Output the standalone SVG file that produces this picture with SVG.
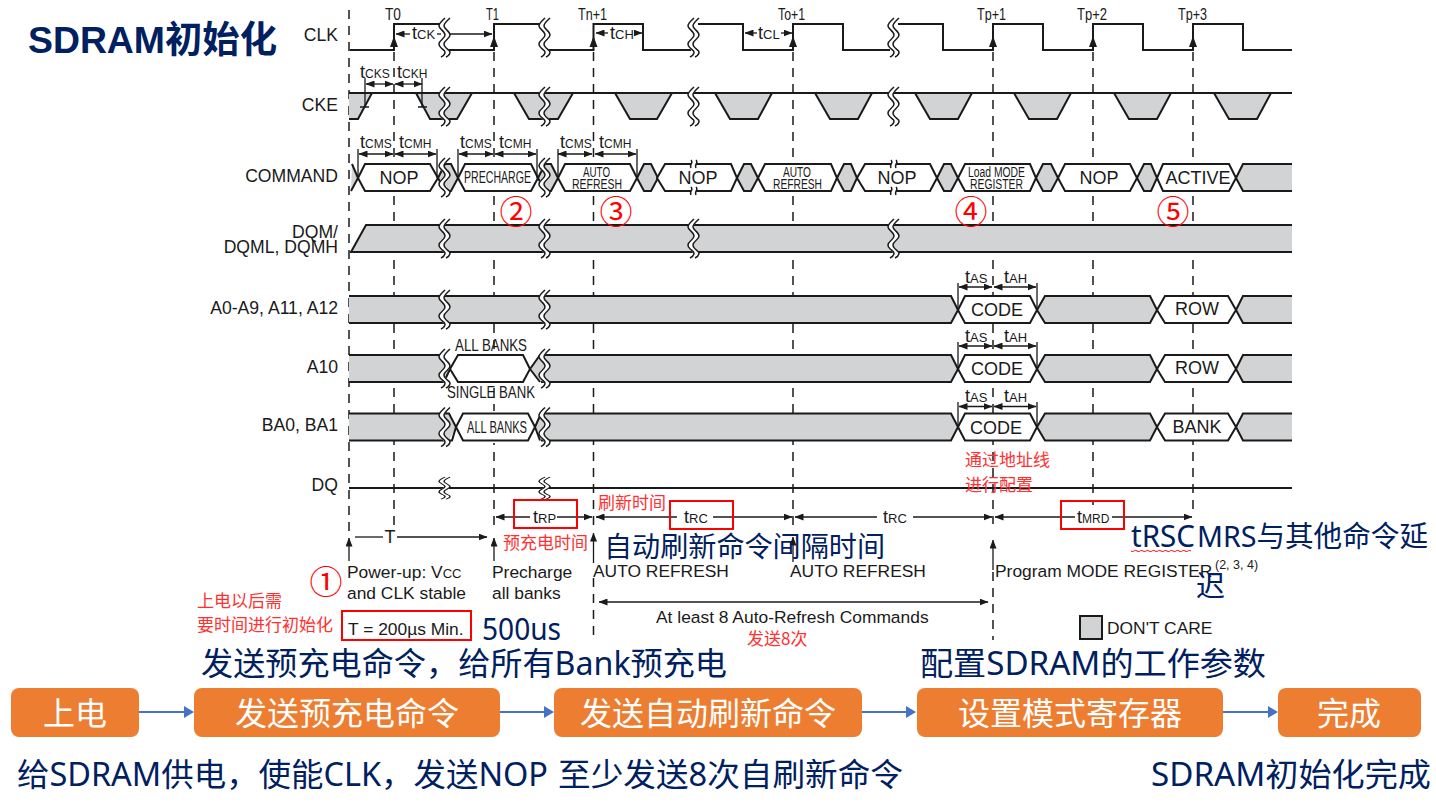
<svg xmlns="http://www.w3.org/2000/svg" width="1436" height="811" viewBox="0 0 1436 811">
<style>
text{font-family:"Liberation Sans","Noto Sans CJK SC",sans-serif}
.w{fill:#fff;stroke:none}
.g{fill:#d1d3d4;stroke:#1a1a1a;stroke-width:2}
.h{fill:#fff;stroke:#1a1a1a;stroke-width:2}
.l{fill:none;stroke:#1a1a1a;stroke-width:2}
.t{fill:none;stroke:#1a1a1a;stroke-width:1.3}
.aa{fill:none;stroke:#1a1a1a;stroke-width:1.3;marker-start:url(#a);marker-end:url(#a)}
.as{fill:none;stroke:#1a1a1a;stroke-width:1.3;marker-start:url(#a)}
.ae{fill:none;stroke:#1a1a1a;stroke-width:1.3;marker-end:url(#a)}
.d{fill:none;stroke:#1a1a1a;stroke-width:1.5;stroke-dasharray:9 7}
.lab{font-size:17.6px;fill:#1a1a1a;text-anchor:end}
.s{font-size:18px;fill:#1a1a1a}
.s tspan{font-size:13px}
.sm tspan{font-size:12px}
.tk{font-size:16px;fill:#1a1a1a}
.m{font-size:18px;fill:#1a1a1a;text-anchor:middle}
.p{font-size:17.4px;fill:#1a1a1a}
.x{fill:#1a1a1a}
.b{fill:#002060;font-family:"Noto Sans","Noto Sans CJK SC",sans-serif;font-size:32px}
.r{fill:#ff3030;font-family:"Noto Sans CJK SC",sans-serif;font-size:17px}
.c{fill:#f00;font-family:"Noto Sans CJK SC",sans-serif;font-size:33px;text-anchor:middle}
.box{fill:none;stroke:#f00;stroke-width:2}
.n{fill:#ed7d31}
.nt{fill:#fff;font-family:"Noto Sans CJK SC",sans-serif;font-size:32px;text-anchor:middle}
.bk{fill:none;stroke:#1a1a1a;stroke-width:1.5}
</style>
<defs>
<marker id="a" markerWidth="9" markerHeight="7" refX="8.5" refY="3.500" orient="auto-start-reverse" markerUnits="userSpaceOnUse"><path d="M0 0L9 3.500L0 7Z" fill="#1a1a1a"/></marker>
<path id="wv" d="M3 -6C0 -3 -3 -1 -3 2C-3 5 3 7 3 11C3 15 -3 16 -3 20C-3 24 3 26 3 28C3 30 1 32 -1 33"/>
<g id="brk"><use href="#wv" x="2.500" fill="none" stroke="#fff" stroke-width="5"/><use href="#wv" class="bk"/><use href="#wv" x="5" class="bk"/></g>
</defs>
<g id="dashes">
<path class="d" d="M349 10V532M394 52V532M494 52V532M593.500 52V532M793 52V526M993 52V524M1093 52V505M1193 52V516"/>
<path class="d" d="M593.500 578V640M993 572V640"/>
</g>
<g id="clock">
<path class="l" d="M350 50H394V24H441M449 50H494V24H541M548 50H593.500V24H643V50H691M698 24H743V50H793V24H843V50H890M898 24H943V50H993V24H1043V50H1093V24H1143V50H1193V24H1243V50H1292"/>
<use href="#brk" x="442" y="24"/><use href="#brk" x="542" y="24"/><use href="#brk" x="691" y="24"/><use href="#brk" x="891" y="24"/>
<path d="M394 36l-4 11h8zM494 36l-4 11h8zM593.500 36l-4 11h8zM793 36l-4 11h8zM993 36l-4 11h8zM1093 36l-4 11h8zM1193 36l-4 11h8z" fill="#1a1a1a"/>
</g>
<g id="cke">
<path class="g" d="M349 119H358L372 93H349M416 93L430 119H457L472 93M514 93L529 119H558L573 93M615 93L630 119H657L672 93M715 93L730 119H758L772 93M815 93L830 119H858L872 93M915 93L930 119H958L972 93M1014 93L1029 119H1057L1071 93M1114 93L1129 119H1157L1171 93M1214 93L1229 119H1257L1271 93"/>
<path class="l" d="M349 93H1292"/>
<use href="#brk" x="442" y="93"/><use href="#brk" x="542" y="93"/><use href="#brk" x="691" y="93"/><use href="#brk" x="891" y="93"/>
</g>
<g id="command">
<path class="g" d="M352 164L358 178L351 191M438 178L445 164H451L458 178L451 191H445ZM538 178L545 164H551L558 178L551 191H545ZM637 178L644 164H651L658 178L651 191H644ZM737 178L744 164H751L758 178L751 191H744ZM837 178L844 164H851L857 178L851 191H844ZM937 178L944 164H951L958 178L951 191H944ZM1036 178L1043 164H1051L1058 178L1051 191H1043ZM1137 178L1144 164H1151L1157 178L1151 191H1144ZM1292 164H1243L1236 178L1243 191H1292"/>
<path class="h" d="M358 178L365 164H430L438 178L430 191H365ZM458 178L465 164H531L538 178L531 191H465ZM558 178L565 164H630L637 178L630 191H565ZM657 178L665 164H731L737 178L731 191H665ZM758 178L765 164H831L837 178L831 191H765ZM857 178L865 164H930L937 178L930 191H865ZM958 178L965 164H1030L1036 178L1030 191H965ZM1058 178L1065 164H1130L1137 178L1130 191H1065ZM1157 178L1163 164H1229L1236 178L1229 191H1163Z"/>
<use href="#brk" x="442" y="164"/><use href="#brk" x="542" y="164"/>
<path class="w" d="M691 162h5v4h-5zM691 189h5v4h-5zM891 162h5v4h-5zM891 189h5v4h-5z"/>
<path class="bk" d="M691 160C694 163 689 164 691 168M696 160C699 163 694 164 696 168M691 187C694 190 689 191 691 195M696 187C699 190 694 191 696 195M891 160C894 163 889 164 891 168M896 160C899 163 894 164 896 168M891 187C894 190 889 191 891 195M896 187C899 190 894 191 896 195"/>
</g>
<g id="dqm">
<path class="g" d="M1292 225H366L351 252H1292"/>
<use href="#brk" x="442" y="225"/><use href="#brk" x="542" y="225"/><use href="#brk" x="691" y="225"/><use href="#brk" x="891" y="225"/>
</g>
<g id="addr">
<path class="g" d="M349 296H951L958 310L951 323H349M1037 310L1045 296H1150L1157 310L1150 323H1045ZM1292 296H1243L1236 310L1243 323H1292"/>
<path class="h" d="M958 310L965 296H1030L1037 310L1030 323H965ZM1157 310L1165 296H1228L1236 310L1228 323H1165Z"/>
<use href="#brk" x="442" y="296"/><use href="#brk" x="542" y="296"/>
</g>
<g id="a10">
<path class="g" d="M349 355H951L958 369L951 382H349M1037 369L1045 355H1150L1157 369L1150 382H1045ZM1292 355H1243L1236 369L1243 382H1292"/>
<path class="w" d="M445 353h96v31h-96z"/>
<path d="M444 358L450 369L444 380ZM530 369L541 355V382Z" fill="#d1d3d4"/>
<path class="h" d="M450 369L458 355H523L530 369L523 382H458Z"/>
<path class="l" d="M450 369L444 382M450 369L444 358M530 369L540 382M530 369L540 355"/>
<path class="h" d="M958 369L965 355H1030L1037 369L1030 382H965ZM1157 369L1165 355H1228L1236 369L1228 382H1165Z"/>
<use href="#brk" x="442" y="355"/><use href="#brk" x="542" y="355"/>
</g>
<g id="ba">
<path class="g" d="M349 413.500H951L958 427L951 440.500H349M1037 427L1045 413.500H1150L1157 427L1150 440.500H1045ZM1292 413.500H1243L1236 427L1243 440.500H1292"/>
<path class="w" d="M447 411h94v32h-94z"/>
<path d="M445 413.500H449L456 427L449 440.500H445ZM535 427L541 413.500V440.500Z" fill="#d1d3d4"/>
<path class="l" d="M445 413.500H449L456 427L452 440.500H445M535 427L541 413.500M535 427L540 440.500"/>
<path class="h" d="M456 427L463 413.500H528L535 427L528 440.500H463ZM958 427L965 413.500H1030L1037 427L1030 440.500H965ZM1157 427L1165 413.500H1228L1236 427L1228 440.500H1165Z"/>
<use href="#brk" x="442" y="413.500"/><use href="#brk" x="542" y="413.500"/>
</g>
<g id="dq">
<path class="l" d="M349 488H1292"/>
<use href="#brk" transform="translate(442 480.400) scale(1 .564)"/><use href="#brk" transform="translate(542 480.400) scale(1 .564)"/>
</g>
<g id="timing">
<path class="as" d="M396 34H410"/><path class="t" d="M437 34H441"/><path class="ae" d="M450 34H492"/>
<path class="as" d="M596 33H608"/><path class="ae" d="M636 33H642"/><path class="as" d="M745 33H757"/><path class="ae" d="M781 33H792"/>
<path class="aa" d="M366 84H393"/><path class="aa" d="M395 84H422"/>
<path class="t" d="M365 78V107M422 78V107M360 107H369M418 107H427"/>
<path class="aa" d="M359 154H393"/><path class="aa" d="M395 154H436"/><path class="aa" d="M459 154H493"/><path class="aa" d="M495 154H536"/><path class="aa" d="M558 154H592"/><path class="aa" d="M595 154H636"/>
<path class="t" d="M358 149V178M437 149V178M458 149V178M537 149V178M558 149V178M637 149V178"/>
<path class="aa" d="M959 287H992"/><path class="aa" d="M994 287H1036"/><path class="aa" d="M959 346H992"/><path class="aa" d="M994 346H1036"/><path class="aa" d="M959 406.500H992"/><path class="aa" d="M994 406.500H1036"/>
<path class="t" d="M958 283V310M1037 283V310M958 342V369M1037 342V369M958 402V427M1037 402V427"/>
<path class="as" d="M496 517H530"/><path class="ae" d="M557 517H592"/>
<path class="as" d="M596 517H677"/><path class="ae" d="M713 517H792"/>
<path class="as" d="M795 517H877"/><path class="ae" d="M913 517H992"/>
<path class="as" d="M995 517H1075"/><path class="ae" d="M1112 517H1192"/>
<path class="t" d="M355 537H383"/><path class="ae" d="M397 537H487"/>
<path class="ae" d="M349 561V538"/><path class="ae" d="M494 561V538"/><path class="ae" d="M593.500 563V533"/><path class="ae" d="M793 562V537"/><path class="ae" d="M993 570V540"/>
<path class="aa" d="M599 602H988"/>
</g>
<g id="labels">
<text class="lab" x="338" y="41">CLK</text><text class="lab" x="338" y="111">CKE</text><text class="lab" x="338" y="182">COMMAND</text>
<text class="lab" x="338" y="238">DQM/</text><text class="lab" x="338" y="253">DQML, DQMH</text>
<text class="lab" x="338" y="314">A0-A9, A11, A12</text><text class="lab" x="338" y="373">A10</text><text class="lab" x="338" y="431">BA0, BA1</text><text class="lab" x="338" y="491">DQ</text>
<text class="tk" x="385" y="20" textLength="16" lengthAdjust="spacingAndGlyphs">T0</text><text class="tk" x="486" y="20" textLength="13" lengthAdjust="spacingAndGlyphs">T1</text><text class="tk" x="578" y="20" textLength="29" lengthAdjust="spacingAndGlyphs">Tn+1</text><text class="tk" x="778" y="20" textLength="27" lengthAdjust="spacingAndGlyphs">To+1</text><text class="tk" x="977" y="20" textLength="29" lengthAdjust="spacingAndGlyphs">Tp+1</text><text class="tk" x="1077" y="20" textLength="30" lengthAdjust="spacingAndGlyphs">Tp+2</text><text class="tk" x="1178" y="20" textLength="29" lengthAdjust="spacingAndGlyphs">Tp+3</text>
<text class="s" x="412" y="39">t<tspan>CK</tspan></text>
<text class="s" x="610" y="39">t<tspan>CH</tspan></text>
<text class="s" x="758" y="39">t<tspan>CL</tspan></text>
<g class="sm"><text class="s" x="360" y="78">t<tspan>CKS</tspan></text><text class="s" x="397" y="78">t<tspan>CKH</tspan></text>
<text class="s" x="360" y="148">t<tspan>CMS</tspan></text><text class="s" x="399" y="148">t<tspan>CMH</tspan></text>
<text class="s" x="460" y="148">t<tspan>CMS</tspan></text><text class="s" x="499" y="148">t<tspan>CMH</tspan></text>
<text class="s" x="560" y="148">t<tspan>CMS</tspan></text><text class="s" x="599" y="148">t<tspan>CMH</tspan></text></g>
<text class="m" x="399" y="184">NOP</text><text class="m" x="698" y="184">NOP</text><text class="m" x="897" y="184">NOP</text><text class="m" x="1099" y="184">NOP</text><text class="m" x="1198" y="184">ACTIVE</text>
<text class="x" x="464" y="183" font-size="16" textLength="67" lengthAdjust="spacingAndGlyphs">PRECHARGE</text>
<text class="x" x="583" y="177" font-size="14" textLength="27" lengthAdjust="spacingAndGlyphs">AUTO</text><text class="x" x="572" y="189" font-size="14" textLength="50" lengthAdjust="spacingAndGlyphs">REFRESH</text>
<text class="x" x="783" y="177" font-size="14" textLength="28" lengthAdjust="spacingAndGlyphs">AUTO</text><text class="x" x="773" y="189" font-size="14" textLength="49" lengthAdjust="spacingAndGlyphs">REFRESH</text>
<text class="x" x="968" y="177" font-size="14" textLength="57" lengthAdjust="spacingAndGlyphs">Load MODE</text><text class="x" x="970" y="189" font-size="14" textLength="53" lengthAdjust="spacingAndGlyphs">REGISTER</text>
<text class="x" x="455" y="351" font-size="17" textLength="72" lengthAdjust="spacingAndGlyphs">ALL BANKS</text><text class="x" x="447" y="398" font-size="17" textLength="88" lengthAdjust="spacingAndGlyphs">SINGLE BANK</text><text class="x" x="467" y="433" font-size="16" textLength="60" lengthAdjust="spacingAndGlyphs">ALL BANKS</text>
<text class="s" x="965" y="283">t<tspan>AS</tspan></text><text class="s" x="1004" y="283">t<tspan>AH</tspan></text>
<text class="s" x="965" y="342">t<tspan>AS</tspan></text><text class="s" x="1004" y="342">t<tspan>AH</tspan></text>
<text class="s" x="965" y="402">t<tspan>AS</tspan></text><text class="s" x="1004" y="402">t<tspan>AH</tspan></text>
<text class="m" x="997" y="316">CODE</text><text class="m" x="997" y="375">CODE</text><text class="m" x="996" y="434">CODE</text>
<text class="m" x="1197" y="315">ROW</text><text class="m" x="1197" y="374">ROW</text><text class="m" x="1197" y="433">BANK</text>
<text class="s" x="533" y="523">t<tspan>RP</tspan></text><text class="s" x="684" y="523">t<tspan>RC</tspan></text><text class="s" x="883" y="523">t<tspan>RC</tspan></text><text class="s sm" x="1077" y="523">t<tspan>MRD</tspan></text>
<text class="s" x="390" y="543" text-anchor="middle">T</text>
<text class="p" x="347" y="578">Power-up: V<tspan font-size="13">CC</tspan></text><text class="p" x="347" y="599">and CLK stable</text><text class="p" x="492" y="578">Precharge</text><text class="p" x="492" y="599">all banks</text><text class="p" x="593" y="577">AUTO REFRESH</text><text class="p" x="790" y="577">AUTO REFRESH</text><text class="p" x="995" y="577">Program MODE REGISTER</text><text class="p" x="656" y="623">At least 8 Auto-Refresh Commands</text><text class="p" x="348" y="635">T = 200µs Min.</text><text class="p" x="1107" y="634">DON'T CARE</text>
<text class="x" x="1215" y="569" font-size="12.500">(2, 3, 4)</text>
<rect x="1080" y="616" width="22" height="23" class="g"/>
</g>
<g id="annotations">
<rect class="box" x="514" y="500" width="63" height="28"/><rect class="box" x="670" y="501" width="63" height="28"/><rect class="box" x="1061" y="501" width="63" height="28"/><rect class="box" x="342" y="611" width="129" height="29"/>
<text class="c" x="516" y="224">②</text><text class="c" x="616" y="224">③</text><text class="c" x="971" y="224">④</text><text class="c" x="1173" y="224">⑤</text><text class="c" x="326" y="594">①</text>
<text class="r" x="197" y="607">上电以后需</text><text class="r" x="197" y="631">要时间进行初始化</text><text class="r" x="503" y="549">预充电时间</text><text class="r" x="598" y="509">刷新时间</text><text class="r" x="965" y="466">通过地址线</text><text class="r" x="965" y="491">进行配置</text><text class="r" x="747" y="645">发送8次</text>
<text x="28" y="53" fill="#002060" font-family="Noto Sans,Noto Sans CJK SC,sans-serif" font-size="37" font-weight="700" textLength="249" lengthAdjust="spacingAndGlyphs">SDRAM初始化</text>
<text class="b" x="604" y="557" style="font-size:28px" textLength="281" lengthAdjust="spacingAndGlyphs">自动刷新命令间隔时间</text>
<text class="b" x="1131" y="547" style="font-size:30px" textLength="64" lengthAdjust="spacingAndGlyphs">tRSC</text><text class="b" x="1197" y="547" style="font-size:29px" textLength="231" lengthAdjust="spacingAndGlyphs">MRS与其他命令延</text><text class="b" x="1196" y="597" style="font-size:29px">迟</text>
<text class="b" x="482" y="640" style="font-size:30px" textLength="79" lengthAdjust="spacingAndGlyphs">500us</text><text class="b" x="201" y="675" textLength="526" lengthAdjust="spacingAndGlyphs">发送预充电命令，给所有Bank预充电</text><text class="b" x="920" y="675" textLength="346" lengthAdjust="spacingAndGlyphs">配置SDRAM的工作参数</text>
<text class="b" x="17" y="786" textLength="531" lengthAdjust="spacingAndGlyphs">给SDRAM供电，使能CLK，发送NOP</text><text class="b" x="558" y="786" textLength="345" lengthAdjust="spacingAndGlyphs">至少发送8次自刷新命令</text><text class="b" x="1151" y="786" textLength="280" lengthAdjust="spacingAndGlyphs">SDRAM初始化完成</text>
<path d="M1131 551c3 2 3-2 6 0s3-2 6 0 3-2 6 0 3-2 6 0 3-2 6 0 3-2 6 0 3-2 6 0 3-2 6 0 3-2 6 0 3-2 6 0" fill="none" stroke="#f00" stroke-width="1"/>
</g>
<g id="connectors"><g stroke="#4472c4" stroke-width="2" fill="#4472c4">
<path d="M139 712H186M500 712H546M862 712H908M1223 712H1270"/>
<path d="M194 712l-10-6v12zM554 712l-10-6v12zM916 712l-10-6v12zM1278 712l-10-6v12z" stroke="none"/></g></g>
<g id="n1"><rect class="n" x="11" y="688" width="128" height="49" rx="8"/><text class="nt" x="75" y="725">上电</text></g>
<g id="n2"><rect class="n" x="194" y="688" width="306" height="49" rx="8"/><text class="nt" x="347" y="725">发送预充电命令</text></g>
<g id="n3"><rect class="n" x="554" y="688" width="308" height="49" rx="8"/><text class="nt" x="708" y="725">发送自动刷新命令</text></g>
<g id="n4"><rect class="n" x="917" y="688" width="306" height="49" rx="8"/><text class="nt" x="1070" y="725">设置模式寄存器</text></g>
<g id="n5"><rect class="n" x="1278" y="688" width="143" height="49" rx="8"/><text class="nt" x="1349" y="725">完成</text></g>
</svg>
